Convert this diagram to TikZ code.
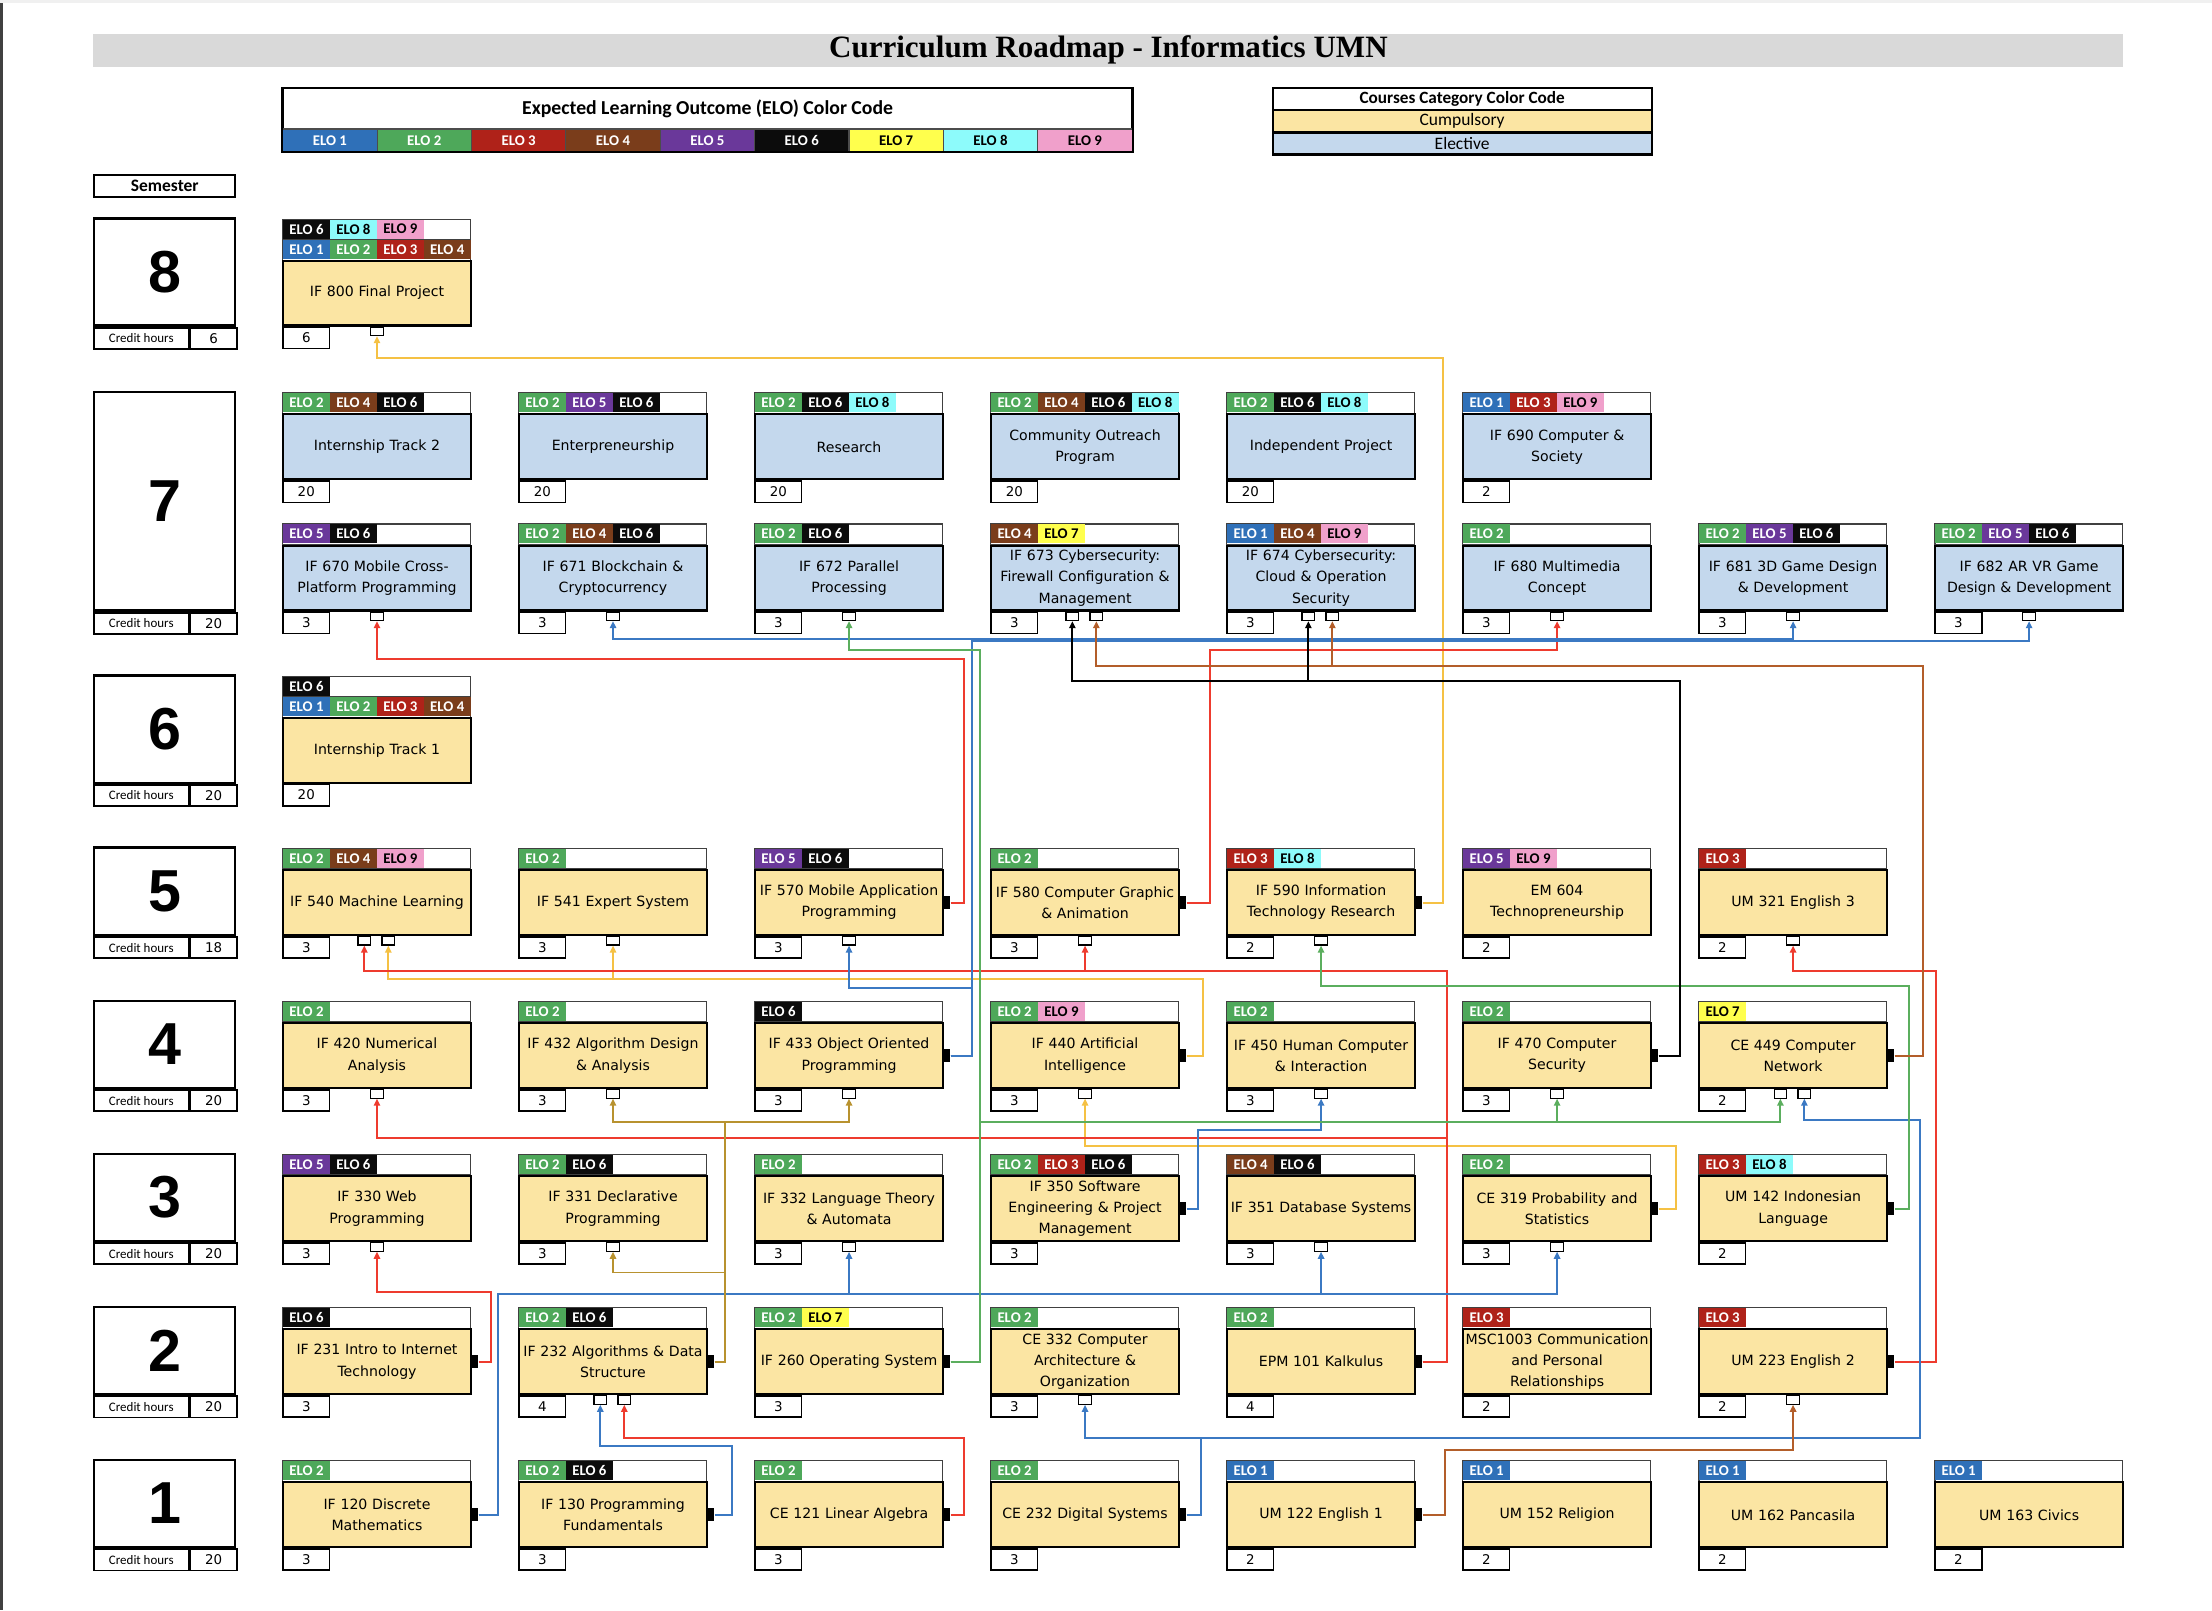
\documentclass[tikz,border=0pt]{standalone}
\usepackage{fontspec}
\setmainfont{DejaVu Sans}
\newfontfamily\narrowfont{Carlito}
\newfontfamily\titlefont{Liberation Serif}
\newfontfamily\bignumfont{Liberation Sans}
\usetikzlibrary{arrows.meta,calc}

\definecolor{elo1}{HTML}{2F70B8}
\definecolor{elo2}{HTML}{4EA85A}
\definecolor{elo3}{HTML}{AF2219}
\definecolor{elo4}{HTML}{7A3D1B}
\definecolor{elo5}{HTML}{6A389A}
\definecolor{elo6}{HTML}{0C0C0C}
\definecolor{elo7}{HTML}{FFFF4D}
\definecolor{elo8}{HTML}{8DFBFB}
\definecolor{elo9}{HTML}{F0A0CB}
\colorlet{elotx1}{white}\colorlet{elotx2}{white}\colorlet{elotx3}{white}
\colorlet{elotx4}{white}\colorlet{elotx5}{white}\colorlet{elotx6}{white}
\colorlet{elotx7}{black}\colorlet{elotx8}{black}\colorlet{elotx9}{black}
\definecolor{compulsory}{HTML}{FBE5A3}
\definecolor{elective}{HTML}{C4D8ED}
\definecolor{titlegray}{HTML}{D9D9D9}
\definecolor{lnred}{HTML}{EE3B2E}
\definecolor{lnblue}{HTML}{3B79C3}
\definecolor{lngreen}{HTML}{5BAE5E}
\definecolor{lnyellow}{HTML}{F5C144}
\definecolor{lnbrown}{HTML}{B35E2A}
\definecolor{lntan}{HTML}{B8922F}

% #1 name, #2 x, #3 y, #4 list of ELOs
\newcommand{\elorow}[4]{%
  \node[elostrip,anchor=north west] (#1) at (#2,#3) {};
  \foreach \e [count=\i from 0] in {#4}
    \node[elocell,fill=elo\e,text=elotx\e,anchor=north west] at ($(#1.north west)+(\i*33.25+0.45,0.45)$) {ELO \e};
}
% #1 name, #2 x, #3 top of body, #4 fill, #5 title, #6 credits
\newcommand{\course}[6]{%
  \node[coursebox,fill=#4,anchor=north west] (#1) at (#2,#3) {#5};
  \node[creditbox,anchor=north west] (#1-cr) at (#1.south west) {#6};
}
\newcommand{\inport}[1]{\node[inport,anchor=north] (#1-in) at (#1.south) {};}
\newcommand{\inports}[1]{%
  \node[inport,anchor=north] (#1-in1) at ([xshift=-9pt]#1.south) {};
  \node[inport,anchor=north] (#1-in2) at ([xshift=8pt]#1.south) {};}
\newcommand{\outport}[1]{\node[outport] (#1-out) at ([xshift=1.5pt]#1.east) {};}
% #1 name, #2 top, #3 height, #4 number, #5 credits
\newcommand{\semester}[5]{%
  \node[sembox,minimum height=#3pt,anchor=north west] (#1) at (66,#2) {#4};
  \node[semhours,anchor=north west] (#1-h) at (#1.south west) {Credit hours};
  \node[semcredit,anchor=north west] (#1-c) at (#1-h.north east) {#5};
}

\begin{document}
\begin{tikzpicture}[x=1pt,y=-1pt,
  coursebox/.style={draw,line width=1.5pt,minimum width=133pt,minimum height=46pt,
    text width=131pt,inner xsep=1pt,inner ysep=0pt,align=center,
    font=\fontsize{10}{15}\selectfont},
  creditbox/.style={draw,line width=1.2pt,fill=white,minimum width=33pt,minimum height=15pt,
    inner sep=0pt,font=\fontsize{9.5}{10}\selectfont},
  elostrip/.style={draw=black!75,line width=0.9pt,fill=white,minimum width=133pt,
    minimum height=14.5pt,inner sep=0pt},
  elocell/.style={minimum width=33.25pt,minimum height=13.6pt,inner sep=0pt,
    font=\narrowfont\bfseries\fontsize{10.5}{11}\selectfont},
  legcell/.style={draw=black!70,line width=0.8pt,minimum width=66.9pt,minimum height=16pt,
    inner sep=0pt,font=\narrowfont\bfseries\fontsize{10.5}{11}\selectfont},
  catcell/.style={draw,line width=0.9pt,minimum width=268pt,minimum height=15pt,
    inner sep=0pt,font=\narrowfont\fontsize{12.4}{13}\selectfont},
  inport/.style={draw,line width=0.8pt,fill=white,minimum width=9pt,minimum height=6pt,inner sep=0pt},
  outport/.style={fill=black,minimum width=6pt,minimum height=9pt,inner sep=0pt},
  sembox/.style={draw,line width=1.6pt,fill=white,minimum width=100pt,inner sep=0pt,
    font=\bignumfont\bfseries\fontsize{42}{42}\selectfont},
  semhours/.style={draw,line width=1.3pt,minimum width=67pt,minimum height=15pt,inner sep=0pt,
    font=\narrowfont\fontsize{9.2}{10}\selectfont},
  semcredit/.style={draw,line width=1.3pt,minimum width=33pt,minimum height=15pt,inner sep=0pt,
    font=\fontsize{9.5}{10}\selectfont},
  lnk/.style={line width=1.4pt,-{Triangle[length=5pt,width=4.5pt]}}]
\useasboundingbox (0,0) rectangle (1568,1141.3);
\fill[black!75] (0,0) rectangle (2,1141.3);
\fill[black!6] (0,0) rectangle (1568,2);

% title and legends
\node[fill=titlegray,minimum width=1439pt,minimum height=23pt,inner sep=0pt,anchor=north west,
  font=\titlefont\bfseries\fontsize{22}{22}\selectfont] (title) at (66,24) {Curriculum Roadmap - Informatics UMN};
\node[draw,line width=1.2pt,minimum width=602pt,minimum height=29pt,inner sep=0pt,anchor=north west,
  font=\narrowfont\bfseries\fontsize{14}{15}\selectfont] (elohead) at (200,62) {Expected Learning Outcome (ELO) Color Code};
\foreach \e in {1,...,9}
  \node[legcell,fill=elo\e,text=elotx\e,anchor=north west] (leg\e) at ({200+(\e-1)*66.9},91) {ELO \e};
\draw[line width=1.3pt] (elohead.north west) rectangle (leg9.south east);
\node[catcell,anchor=north west,font=\narrowfont\bfseries\fontsize{12.2}{13}\selectfont] (cathead) at (902,62) {Courses Category Color Code};
\node[catcell,fill=compulsory,anchor=north west] (catcomp) at (cathead.south west) {Cumpulsory};
\node[catcell,fill=elective,anchor=north west] (catelec) at (catcomp.south west) {Elective};
\draw[line width=1.3pt] (cathead.north west) rectangle (catelec.south east);
\node[draw,line width=1.6pt,minimum width=100pt,minimum height=16pt,inner sep=0pt,anchor=north west,
  font=\narrowfont\bfseries\fontsize{12.4}{13}\selectfont] (semlabel) at (66,123) {Semester};

% semesters
\semester{sem8}{154}{76}{8}{6}
\semester{sem7}{277}{155}{7}{20}
\semester{sem6}{478}{76}{6}{20}
\semester{sem5}{600}{62}{5}{18}
\semester{sem4}{708.5}{62}{4}{20}
\semester{sem3}{817}{62}{3}{20}
\semester{sem2}{925.5}{62}{2}{20}
\semester{sem1}{1034}{62}{1}{20}

% semester 8
\elorow{if800-ea}{200}{155}{6,8,9}
\elorow{if800-eb}{200}{169.5}{1,2,3,4}
\course{if800}{200}{184}{compulsory}{IF 800 Final Project}{6}
\inport{if800}

% semester 7
\elorow{it2-e}{200}{278}{2,4,6}
\course{it2}{200}{293}{elective}{Internship Track 2}{20}
\elorow{ent-e}{367.3}{278}{2,5,6}
\course{ent}{367.3}{293}{elective}{Enterpreneurship}{20}
\elorow{res-e}{534.6}{278}{2,6,8}
\course{res}{534.6}{293}{elective}{Research}{20}
\elorow{cop-e}{701.9}{278}{2,4,6,8}
\course{cop}{701.9}{293}{elective}{Community Outreach\\Program}{20}
\elorow{ip-e}{869.2}{278}{2,6,8}
\course{ip}{869.2}{293}{elective}{Independent Project}{20}
\elorow{if690-e}{1036.5}{278}{1,3,9}
\course{if690}{1036.5}{293}{elective}{IF 690 Computer \&\\Society}{2}

\elorow{if670-e}{200}{371}{5,6}
\course{if670}{200}{386}{elective}{IF 670 Mobile Cross-\\Platform Programming}{3}
\elorow{if671-e}{367.3}{371}{2,4,6}
\course{if671}{367.3}{386}{elective}{IF 671 Blockchain \&\\Cryptocurrency}{3}
\elorow{if672-e}{534.6}{371}{2,6}
\course{if672}{534.6}{386}{elective}{IF 672 Parallel\\Processing}{3}
\elorow{if673-e}{701.9}{371}{4,7}
\course{if673}{701.9}{386}{elective}{IF 673 Cybersecurity:\\Firewall Configuration \&\\Management}{3}
\elorow{if674-e}{869.2}{371}{1,4,9}
\course{if674}{869.2}{386}{elective}{IF 674 Cybersecurity:\\Cloud \& Operation\\Security}{3}
\elorow{if680-e}{1036.5}{371}{2}
\course{if680}{1036.5}{386}{elective}{IF 680 Multimedia\\Concept}{3}
\elorow{if681-e}{1203.8}{371}{2,5,6}
\course{if681}{1203.8}{386}{elective}{IF 681 3D Game Design\\\& Development}{3}
\elorow{if682-e}{1371.1}{371}{2,5,6}
\course{if682}{1371.1}{386}{elective}{IF 682 AR VR Game\\Design \& Development}{3}
\inport{if670}\inport{if671}\inport{if672}\inports{if673}\inports{if674}
\inport{if680}\inport{if681}\inport{if682}

% semester 6
\elorow{it1-ea}{200}{479}{6}
\elorow{it1-eb}{200}{493.5}{1,2,3,4}
\course{it1}{200}{508}{compulsory}{Internship Track 1}{20}

% semester 5
\elorow{if540-e}{200}{601}{2,4,9}
\course{if540}{200}{616}{compulsory}{IF 540 Machine Learning}{3}
\elorow{if541-e}{367.3}{601}{2}
\course{if541}{367.3}{616}{compulsory}{IF 541 Expert System}{3}
\elorow{if570-e}{534.6}{601}{5,6}
\course{if570}{534.6}{616}{compulsory}{IF 570 Mobile Application\\Programming}{3}
\elorow{if580-e}{701.9}{601}{2}
\course{if580}{701.9}{616}{compulsory}{IF 580 Computer Graphic\\\& Animation}{3}
\elorow{if590-e}{869.2}{601}{3,8}
\course{if590}{869.2}{616}{compulsory}{IF 590 Information\\Technology Research}{2}
\elorow{em604-e}{1036.5}{601}{5,9}
\course{em604}{1036.5}{616}{compulsory}{EM 604\\Technopreneurship}{2}
\elorow{um321-e}{1203.8}{601}{3}
\course{um321}{1203.8}{616}{compulsory}{UM 321 English 3}{2}
\inports{if540}\inport{if541}\inport{if570}\inport{if580}\inport{if590}\inport{um321}
\outport{if570}\outport{if580}\outport{if590}

% semester 4
\elorow{if420-e}{200}{709.5}{2}
\course{if420}{200}{724.5}{compulsory}{IF 420 Numerical\\Analysis}{3}
\elorow{if432-e}{367.3}{709.5}{2}
\course{if432}{367.3}{724.5}{compulsory}{IF 432 Algorithm Design\\\& Analysis}{3}
\elorow{if433-e}{534.6}{709.5}{6}
\course{if433}{534.6}{724.5}{compulsory}{IF 433 Object Oriented\\Programming}{3}
\elorow{if440-e}{701.9}{709.5}{2,9}
\course{if440}{701.9}{724.5}{compulsory}{IF 440 Artificial\\Intelligence}{3}
\elorow{if450-e}{869.2}{709.5}{2}
\course{if450}{869.2}{724.5}{compulsory}{IF 450 Human Computer\\\& Interaction}{3}
\elorow{if470-e}{1036.5}{709.5}{2}
\course{if470}{1036.5}{724.5}{compulsory}{IF 470 Computer\\Security}{3}
\elorow{ce449-e}{1203.8}{709.5}{7}
\course{ce449}{1203.8}{724.5}{compulsory}{CE 449 Computer\\Network}{2}
\inport{if420}\inport{if432}\inport{if433}\inport{if440}\inport{if450}\inport{if470}\inports{ce449}
\outport{if433}\outport{if440}\outport{if470}\outport{ce449}

% semester 3
\elorow{if330-e}{200}{818}{5,6}
\course{if330}{200}{833}{compulsory}{IF 330 Web\\Programming}{3}
\elorow{if331-e}{367.3}{818}{2,6}
\course{if331}{367.3}{833}{compulsory}{IF 331 Declarative\\Programming}{3}
\elorow{if332-e}{534.6}{818}{2}
\course{if332}{534.6}{833}{compulsory}{IF 332 Language Theory\\\& Automata}{3}
\elorow{if350-e}{701.9}{818}{2,3,6}
\course{if350}{701.9}{833}{compulsory}{IF 350 Software\\Engineering \& Project\\Management}{3}
\elorow{if351-e}{869.2}{818}{4,6}
\course{if351}{869.2}{833}{compulsory}{IF 351 Database Systems}{3}
\elorow{ce319-e}{1036.5}{818}{2}
\course{ce319}{1036.5}{833}{compulsory}{CE 319 Probability and\\Statistics}{3}
\elorow{um142-e}{1203.8}{818}{3,8}
\course{um142}{1203.8}{833}{compulsory}{UM 142 Indonesian\\Language}{2}
\inport{if330}\inport{if331}\inport{if332}\inport{if351}\inport{ce319}
\outport{if350}\outport{ce319}\outport{um142}

% semester 2
\elorow{if231-e}{200}{926.5}{6}
\course{if231}{200}{941.5}{compulsory}{IF 231 Intro to Internet\\Technology}{3}
\elorow{if232-e}{367.3}{926.5}{2,6}
\course{if232}{367.3}{941.5}{compulsory}{IF 232 Algorithms \& Data\\Structure}{4}
\elorow{if260-e}{534.6}{926.5}{2,7}
\course{if260}{534.6}{941.5}{compulsory}{IF 260 Operating System}{3}
\elorow{ce332-e}{701.9}{926.5}{2}
\course{ce332}{701.9}{941.5}{compulsory}{CE 332 Computer\\Architecture \&\\Organization}{3}
\elorow{epm101-e}{869.2}{926.5}{2}
\course{epm101}{869.2}{941.5}{compulsory}{EPM 101 Kalkulus}{4}
\elorow{msc1003-e}{1036.5}{926.5}{3}
\course{msc1003}{1036.5}{941.5}{compulsory}{MSC1003 Communication\\and Personal\\Relationships}{2}
\elorow{um223-e}{1203.8}{926.5}{3}
\course{um223}{1203.8}{941.5}{compulsory}{UM 223 English 2}{2}
\inports{if232}\inport{ce332}\inport{um223}
\outport{if231}\outport{if232}\outport{if260}\outport{epm101}\outport{um223}

% semester 1
\elorow{if120-e}{200}{1035}{2}
\course{if120}{200}{1050}{compulsory}{IF 120 Discrete\\Mathematics}{3}
\elorow{if130-e}{367.3}{1035}{2,6}
\course{if130}{367.3}{1050}{compulsory}{IF 130 Programming\\Fundamentals}{3}
\elorow{ce121-e}{534.6}{1035}{2}
\course{ce121}{534.6}{1050}{compulsory}{CE 121 Linear Algebra}{3}
\elorow{ce232-e}{701.9}{1035}{2}
\course{ce232}{701.9}{1050}{compulsory}{CE 232 Digital Systems}{3}
\elorow{um122-e}{869.2}{1035}{1}
\course{um122}{869.2}{1050}{compulsory}{UM 122 English 1}{2}
\elorow{um152-e}{1036.5}{1035}{1}
\course{um152}{1036.5}{1050}{compulsory}{UM 152 Religion}{2}
\elorow{um162-e}{1203.8}{1035}{1}
\course{um162}{1203.8}{1050}{compulsory}{UM 162 Pancasila}{2}
\elorow{um163-e}{1371.1}{1035}{1}
\course{um163}{1371.1}{1050}{compulsory}{UM 163 Civics}{2}
\outport{if120}\outport{if130}\outport{ce121}\outport{ce232}\outport{um122}

% prerequisites
\draw[lnk,lnyellow] (if590-out.east) -| (1023,254) -| (if800-in.south);
\draw[lnk,lnyellow] (if440-out.east) -| (853,694) -| (if540-in2.south);
\draw[lnk,lnyellow] (if440-out.east) -| (853,694) -| (if541-in.south);
\draw[lnk,lnyellow] (ce319-out.east) -| (1188,812) -| (if440-in.south);

\draw[lnk,lnred] (if570-out.east) -| (683,467) -| (if670-in.south);
\draw[lnk,lnred] (if580-out.east) -| (858,461) -| (if680-in.south);
\draw[lnk,lnred] (epm101-out.east) -| (1026,688) -| (if540-in1.south);
\draw[lnk,lnred] (epm101-out.east) -| (1026,688) -| (if580-in.south);
\draw[lnk,lnred] (epm101-out.east) -| (1026,807) -| (if420-in.south);
\draw[lnk,lnred] (um223-out.east) -| (1372,688) -| (um321-in.south);
\draw[lnk,lnred] (if231-out.east) -| (348,916) -| (if330-in.south);
\draw[lnk,lnred] (ce121-out.east) -| (683,1019) -| (if232-in2.south);

\draw[lnk,lnblue] (if433-out.east) -| (689,453) -| (if671-in.south);
\draw[lnk,lnblue] (if433-out.east) -| (689,453) -| (if681-in.south);
\draw[lnk,lnblue] (if433-out.east) -| (689,454.5) -| (if682-in.south);
\draw[lnk,lnblue] (if433-out.east) -| (689,700) -| (if570-in.south);
\draw[lnk,lnblue] (if350-out.east) -| (849,801) -| (if450-in.south);
\draw[lnk,lnblue] (ce232-out.east) -| (851,1019) -| (1361,794) -| (ce449-in2.south);
\draw[lnk,lnblue] (ce232-out.east) -| (851,1019) -| (ce332-in.south);
\draw[lnk,lnblue] (if120-out.east) -| (353,917) -| (if332-in.south);
\draw[lnk,lnblue] (if120-out.east) -| (353,917) -| (if351-in.south);
\draw[lnk,lnblue] (if120-out.east) -| (353,917) -| (ce319-in.south);
\draw[lnk,lnblue] (if130-out.east) -| (519,1025) -| (if232-in1.south);

\draw[lnk,lngreen] (if260-out.east) -| (695,461) -| (if672-in.south);
\draw[lnk,lngreen] (if260-out.east) -| (695,795) -| (if470-in.south);
\draw[lnk,lngreen] (if260-out.east) -| (695,795) -| (ce449-in1.south);
\draw[lnk,lngreen] (um142-out.east) -| (1353,699) -| (if590-in.south);

\draw[lnk,lnbrown] (ce449-out.east) -| (1363,472) -| (if673-in2.south);
\draw[lnk,lnbrown] (ce449-out.east) -| (1363,472) -| (if674-in2.south);
\draw[lnk,lnbrown] (um122-out.east) -| (1024,1028) -| (um223-in.south);

\draw[lnk,lntan] (if232-out.east) -| (514,902) -| (if331-in.south);
\draw[lnk,lntan] (if232-out.east) -| (514,795) -| (if432-in.south);
\draw[lnk,lntan] (if232-out.east) -| (514,795) -| (if433-in.south);

\draw[lnk,black] (if470-out.east) -| (1191,483) -| (if673-in1.south);
\draw[lnk,black] (if470-out.east) -| (1191,483) -| (if674-in1.south);
\end{tikzpicture}
\end{document}
